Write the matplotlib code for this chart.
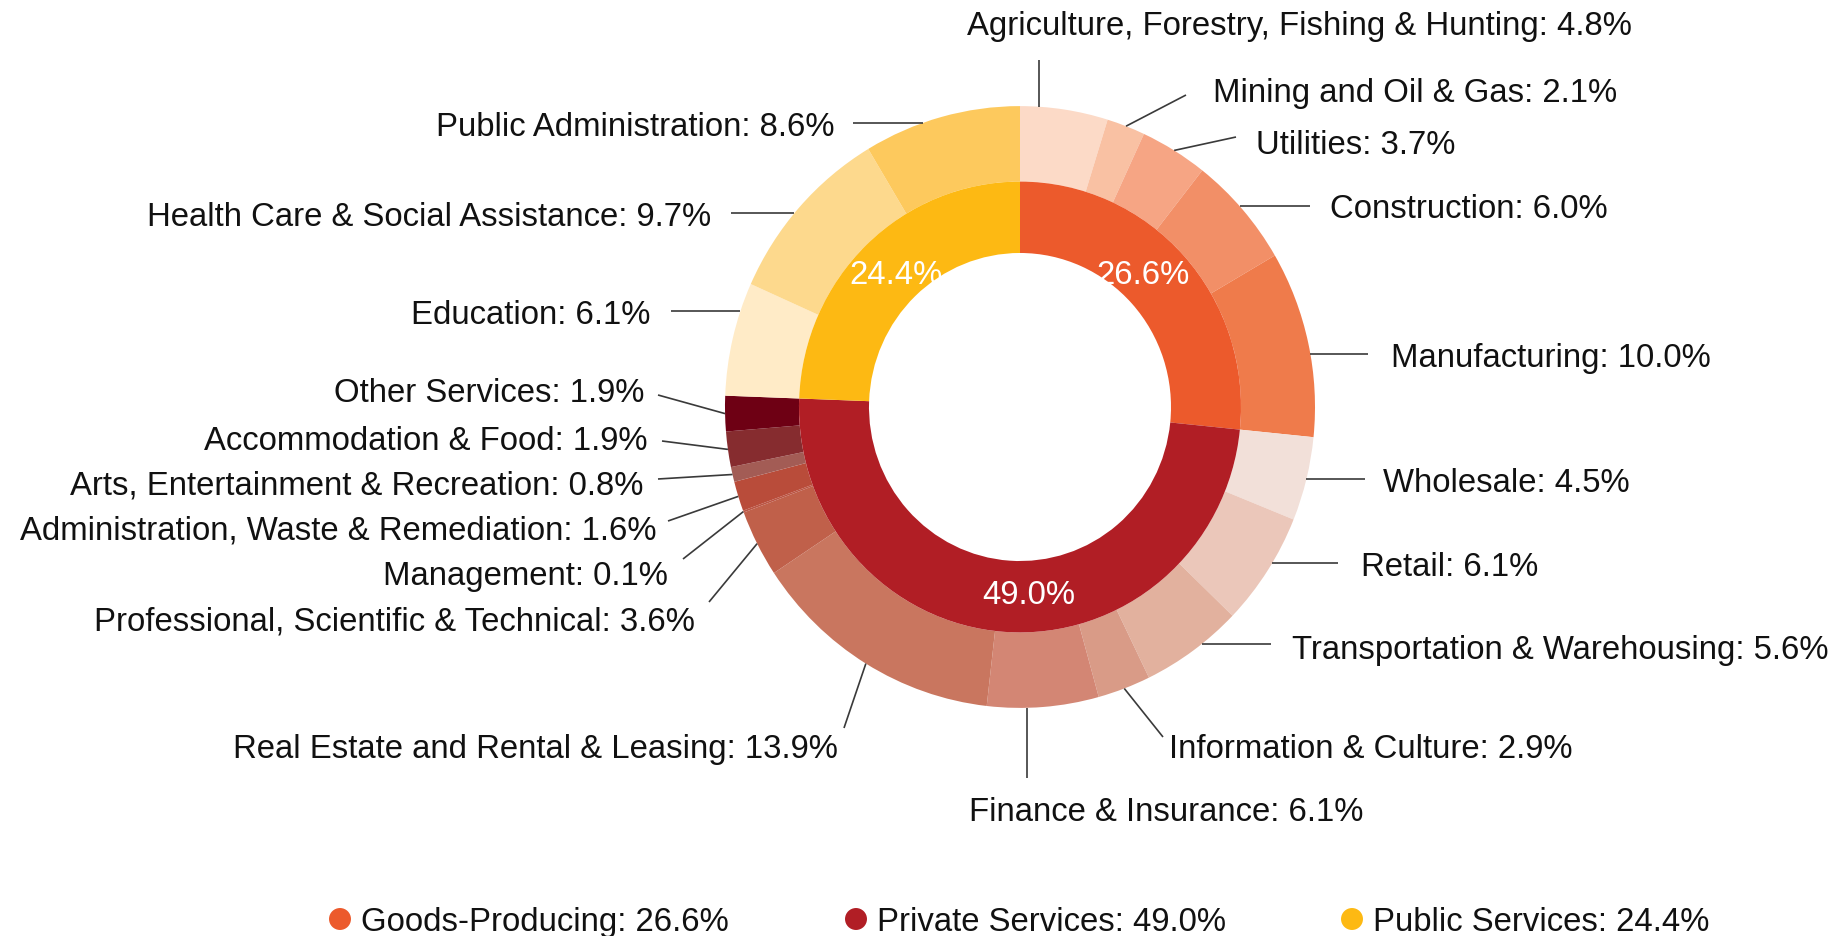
import numpy as np
import matplotlib.pyplot as plt

plt.rcParams['font.family'] = ['Liberation Sans', 'DejaVu Sans']

# data
group_names = ['Goods-Producing', 'Private Services', 'Public Services']
group_values = [26.6, 49.0, 24.4]
group_colors = ['#EC5A2C', '#B11E25', '#FDB913']

sector_names = [
    'Agriculture, Forestry, Fishing & Hunting', 'Mining and Oil & Gas', 'Utilities',
    'Construction', 'Manufacturing',
    'Wholesale', 'Retail', 'Transportation & Warehousing', 'Information & Culture',
    'Finance & Insurance', 'Real Estate and Rental & Leasing',
    'Professional, Scientific & Technical', 'Management',
    'Administration, Waste & Remediation', 'Arts, Entertainment & Recreation',
    'Accommodation & Food', 'Other Services',
    'Education', 'Health Care & Social Assistance', 'Public Administration',
]
sector_values = [4.8, 2.1, 3.7, 6.0, 10.0,
                 4.5, 6.1, 5.6, 2.9, 6.1, 13.9, 3.6, 0.1, 1.6, 0.8, 1.9, 1.9,
                 6.1, 9.7, 8.6]
sector_colors = ['#FCDAC7', '#F9C1A3', '#F6A584', '#F28F67', '#EF7B4B',
                 '#F2E0D9', '#EBC7BA', '#E2B19E', '#D99B87', '#D38674', '#C9765F',
                 '#C0604A', '#BB5443', '#B94C3A', '#A35C55', '#862C2F', '#6E0014',
                 '#FFEBC7', '#FDD98D', '#FDC95D']

# label layout in pixels: text x, text y, align, leader mode, leader end x, leader end y
layout = [
    (967, 23, 'left', 'v', 1039, 61),
    (1213, 90, 'left', 'd', 1186, 96),
    (1256, 143, 'left', 'd', 1236, 138),
    (1330, 207, 'left', 'h', 1310, 207),
    (1391, 355, 'left', 'h', 1368, 355),
    (1383, 480, 'left', 'h', 1365, 480),
    (1361, 564, 'left', 'h', 1338, 564),
    (1292, 648, 'left', 'h', 1271, 645),
    (1169, 747, 'left', 'd', 1163, 738),
    (969, 810, 'left', 'v', 1027, 779),
    (838, 747, 'right', 'd', 844, 729),
    (695, 619, 'right', 'd', 709, 603),
    (668, 573, 'right', 'd', 683, 560),
    (657, 528, 'right', 'd', 668, 522),
    (643, 483, 'right', 'd', 658, 480),
    (648, 438, 'right', 'd', 662, 442),
    (644, 391, 'right', 'd', 658, 396),
    (650, 312, 'right', 'h', 671, 312),
    (711, 214, 'right', 'h', 731, 214),
    (834, 124, 'right', 'h', 853, 124),
]
inner_label_pos = [(1143, 272), (1029, 593), (896, 272)]
legend_pos = [(340, 920), (856, 920), (1352, 920)]

W, H = 1837, 937
K = 1.02  # ring is slightly taller than wide in the reference
CX, CY = 1020, 408
R_OUT, R_MID, R_IN = 295, 221, 151
FS = 23.7
TXT_DY = 3  # text baseline nudge, px


def yd(py):
    return (H - py) / K


fig = plt.figure(figsize=(W / 100, H / 100), dpi=100)
ax = fig.add_axes([0, 0, 1, 1])
cx, cy = CX, yd(CY)

ax.pie(sector_values, radius=R_OUT, center=(cx, cy), startangle=90, counterclock=False,
       colors=sector_colors, wedgeprops=dict(width=R_OUT - R_MID, linewidth=0))
ax.pie(group_values, radius=R_MID, center=(cx, cy), startangle=90, counterclock=False,
       colors=group_colors, wedgeprops=dict(width=R_MID - R_IN, linewidth=0))
ax.set_aspect('auto')
ax.set_xlim(0, W)
ax.set_ylim(0, H / K)
ax.axis('off')

vals = np.array(sector_values)
mids = (np.cumsum(vals) - vals / 2) / vals.sum() * 2 * np.pi

for name, v, m, (tx, ty, ha, mode, ex, ey) in zip(sector_names, sector_values, mids, layout):
    if mode == 'h':
        dy = yd(ey) - cy
        side = 1 if ha == 'left' else -1
        sx, sy = cx + side * np.sqrt(R_OUT ** 2 - dy ** 2), yd(ey)
    elif mode == 'v':
        dx = ex - cx
        up = 1 if ey < CY else -1
        sx, sy = ex, cy + up * np.sqrt(R_OUT ** 2 - dx ** 2)
    else:
        sx, sy = cx + R_OUT * np.sin(m), cy + R_OUT * np.cos(m)
    ax.plot([sx, ex], [sy, yd(ey)], color='#3a3a3a', lw=1.2, solid_capstyle='butt')
    ax.text(tx, yd(ty + TXT_DY), f'{name}: {v:.1f}%', ha=ha, va='center',
            fontsize=FS, color='#111111')

for (px, py), v in zip(inner_label_pos, group_values):
    ax.text(px, yd(py + TXT_DY), f'{v:.1f}%', ha='center', va='center', fontsize=FS, color='white')

for (px, py), name, v, c in zip(legend_pos, group_names, group_values, group_colors):
    ax.scatter([px], [yd(py)], s=250, color=c, edgecolors='none')
    ax.text(px + 21, yd(py + TXT_DY), f'{name}: {v:.1f}%', ha='left', va='center',
            fontsize=FS, color='#111111')

fig.savefig('out.png', dpi=100)
